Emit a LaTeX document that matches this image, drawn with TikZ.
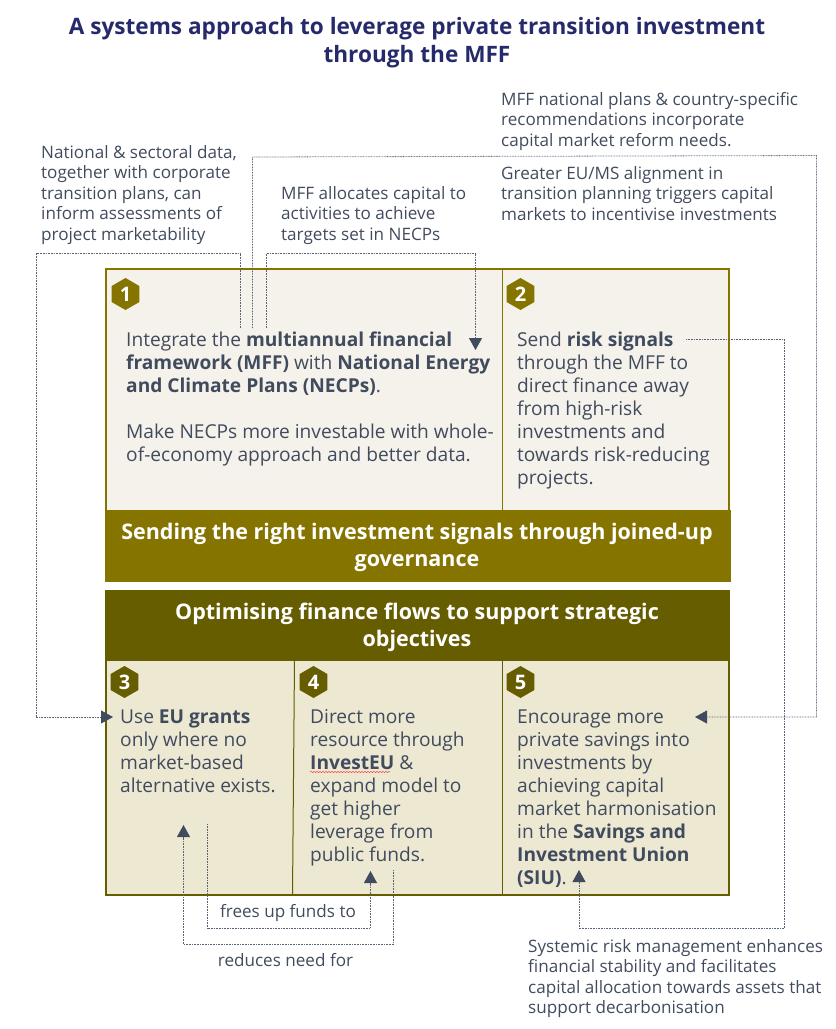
\documentclass[tikz,border=0pt]{standalone}
\usepackage{fontspec}
\setmainfont{Open Sans}
\usetikzlibrary{arrows.meta,shapes.geometric,decorations.pathmorphing}
\definecolor{olivetop}{HTML}{857400}
\definecolor{olivelow}{HTML}{665C00}
\definecolor{paletop}{HTML}{F4F2EA}
\definecolor{palelow}{HTML}{ECE8D2}
\definecolor{bodyink}{HTML}{414B5E}
\definecolor{titleink}{HTML}{262A6B}
\definecolor{linkink}{HTML}{5A6375}
\begin{document}
\begin{tikzpicture}[
    x=1pt, y=-1pt,
    panel/.style={draw=#1, line width=2.4pt},
    divider/.style={draw=#1, line width=1pt},
    banner/.style={fill=#1},
    hexnum/.style={regular polygon, regular polygon sides=6, fill=#1, text=white, minimum size=32pt, inner sep=0pt, font=\fontsize{20}{24}\selectfont\bfseries},
    bannertext/.style={align=center, text=white, inner sep=0pt, font=\fontsize{21.5}{27}\selectfont\bfseries},
    boxtext/.style={anchor=north west, align=left, inner sep=0pt, text=bodyink, font=\fontsize{19.15}{23}\selectfont},
    note/.style={anchor=north west, align=left, inner sep=0pt, text=bodyink, font=\fontsize{17.1}{20.5}\selectfont},
    link/.style={draw=linkink, line width=0.8pt, dash pattern=on 0.8pt off 0.8pt},
    linkarrow/.style={link, -{Triangle[width=13pt,length=12pt,color=bodyink]}}
]
    \useasboundingbox (0,0) rectangle (836,1029);

    % Titel
    \node[align=center, inner sep=0pt, text=titleink, font=\fontsize{22.6}{28}\selectfont\bfseries] (title) at (417,43)
        {A systems approach to leverage private transition investment\\through the MFF};

    % Bovenste paneel
    \path[panel=olivetop, fill=paletop] (106,269) rectangle (729,511);
    \path[divider=olivetop] (502,269) -- (502,511);
    \path[banner=olivetop] (105,510) rectangle (731,582);
    \node[bannertext] (signals) at (417,547) {Sending the right investment signals through joined-up\\governance};

    % Onderste paneel
    \path[panel=olivelow, fill=palelow] (106,660) rectangle (729,895);
    \path[divider=olivelow] (294.5,660) -- (292.5,895);
    \path[divider=olivelow] (502.5,660) -- (502.5,895);
    \path[banner=olivelow] (105,590) rectangle (730,661);
    \node[bannertext] (flows) at (417,627) {Optimising finance flows to support strategic\\objectives};

    % Nummers
    \node[hexnum=olivetop, shape border rotate=30] (n1) at (125.5,294) {1};
    \node[hexnum=olivetop, shape border rotate=30] (n2) at (520.5,294) {2};
    \node[hexnum=olivelow, shape border rotate=30] (n3) at (124.5,682) {3};
    \node[hexnum=olivelow, shape border rotate=30] (n4) at (313.5,682) {4};
    \node[hexnum=olivelow, shape border rotate=30] (n5) at (520.5,682) {5};

    % Teksten in de panelen
    \node[boxtext] (box1) at (126,331.7) {Integrate the \textbf{multiannual financial}\\\textbf{framework (MFF)} with \textbf{National Energy}\\\textbf{and Climate Plans (NECPs)}.\\[23pt]Make NECPs more investable with whole-\\of-economy approach and better data.};
    \node[boxtext] (box2) at (517,331.7) {Send \textbf{risk signals}\\through the MFF to\\direct finance away\\from high-risk\\investments and\\towards risk-reducing\\projects.};
    \node[boxtext] (box3) at (120,709.7) {Use \textbf{EU grants}\\only where no\\market-based\\alternative exists.};
    \node[boxtext] (box4) at (310,709.7) {Direct more\\resource through\\\textbf{InvestEU} \&\\expand model to\\get higher\\leverage from\\public funds.};
    \node[boxtext] (box5) at (517,709.7) {Encourage more\\private savings into\\investments by\\achieving capital\\market harmonisation\\in the \textbf{Savings and}\\\textbf{Investment Union}\\\textbf{(SIU)}.};

    % Rode kronkel onder InvestEU
    \draw[red!70, line width=0.5pt, decorate, decoration={snake, segment length=3pt, amplitude=0.7pt}] (310,772) -- (390,772);

    % Teksten buiten de panelen
    \node[note] (note1) at (41,145) {National \& sectoral data,\\together with corporate\\transition plans, can\\inform assessments of\\project marketability};
    \node[note] (note2) at (281,186) {MFF allocates capital to\\activities to achieve\\targets set in NECPs};
    \node[note] (note3) at (501,92) {MFF national plans \& country-specific\\recommendations incorporate\\capital market reform needs.};
    \node[note] (note4) at (501,166) {Greater EU/MS alignment in\\transition planning triggers capital\\markets to incentivise investments};
    \node[note] (note5) at (528,939) {Systemic risk management enhances\\financial stability and facilitates\\capital allocation towards assets that\\support decarbonisation};
    \node[note, anchor=center] (frees) at (288,913.5) {frees up funds to};
    \node[note, anchor=center] (reduces) at (285.5,960) {reduces need for};

    % Eindpunten van de verbindingen
    \coordinate (a0) at (240.5,328);
    \coordinate (a1) at (113,717);
    \coordinate (b0) at (252.5,328);
    \coordinate (b1) at (695,717);
    \coordinate (c0) at (266.5,328);
    \coordinate (c1) at (475.5,350);
    \coordinate (d0) at (686,339.5);
    \coordinate (d1) at (579,870);
    \coordinate (e0) at (207.5,824);
    \coordinate (e1) at (370.5,871);
    \coordinate (f0) at (393.5,870);
    \coordinate (f1) at (183.5,825);

    % Verbindingen
    \draw[linkarrow] (a0) -- (240.5,253) -- (36.5,253) -- (36.5,717) -- (a1);
    \draw[linkarrow] (b0) -- (252.5,157) -- (816.5,155.5) -- (816.5,717) -- (b1);
    \draw[linkarrow] (c0) -- (266.5,253) -- (475.5,253) -- (c1);
    \draw[linkarrow] (d0) -- (784.5,339.5) -- (784.5,928.5) -- (579,928.5) -- (d1);
    \draw[linkarrow] (e0) -- (207.5,928) -- (370.5,928) -- (e1);
    \draw[linkarrow] (f0) -- (393.5,944.5) -- (183.5,944.5) -- (f1);
\end{tikzpicture}
\end{document}
